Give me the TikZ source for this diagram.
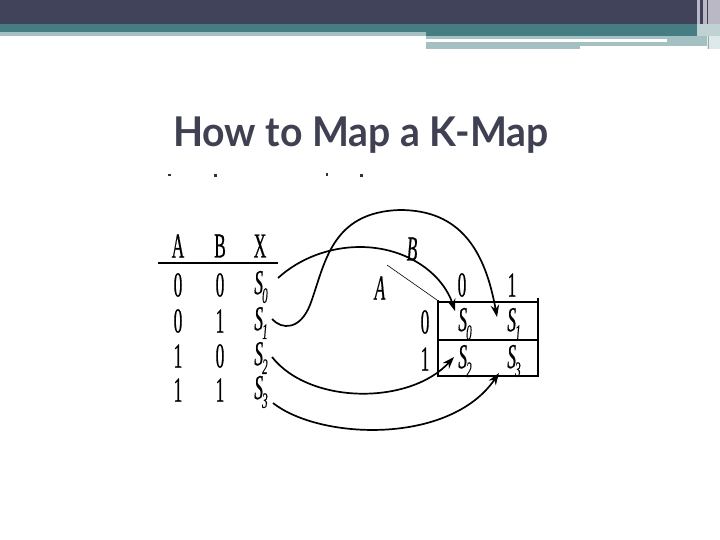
\documentclass[tikz,border=0pt]{standalone}
\usepackage{fontspec}
\usetikzlibrary{arrows.meta}
\newfontfamily\titlefont{Lato}
\newfontfamily\tabfont[FakeBold=0.6]{Liberation Serif}
\definecolor{hdark}{HTML}{41435A}
\definecolor{hteal}{HTML}{467D82}
\definecolor{hlight}{HTML}{A5C0C2}
\definecolor{hpale}{HTML}{DDE9EA}
\definecolor{hgray}{HTML}{B9B8C4}
\definecolor{titlecol}{HTML}{3F4152}
\newcommand{\Sv}[1]{\textit{S}\kern-0.05em\raisebox{-0.25em}{\fontsize{22}{22}\selectfont\textit{#1}}}
\tikzset{
  tab/.style={font=\tabfont\fontsize{35}{35}\selectfont, xscale=0.5, inner sep=0pt, anchor=center},
  mapline/.style={line width=1.7pt, -{Stealth[length=12pt,width=8.5pt]}},
  boxline/.style={line width=1.1pt},
  thickline/.style={line width=2.4pt},
  dotmark/.style={fill=black!80, draw=none}
}
\begin{document}
\begin{tikzpicture}[x=1pt,y=-1pt]
\useasboundingbox (0,0) rectangle (720,540);
\fill[white] (0,0) rectangle (720,540);
% header bands
\fill[hdark] (0,0) rectangle (720,24);
\fill[hteal] (0,24) rectangle (720,32);
\fill[hlight] (0,32) rectangle (426,36);
\fill[hteal] (426,32) rectangle (697,36);
\fill[hlight] (426,36) rectangle (697,39);
\fill[hlight] (426,42) rectangle (580,49);
\fill[hlight] (580,42) rectangle (697,46);
\fill[hlight] (667,39) rectangle (697,42);
\fill[hgray] (697,0) rectangle (700,24);
\fill[hgray] (703,0) rectangle (707,24);
\fill[hgray] (708,0) rectangle (720,24);
\fill[hlight!70] (697,24) rectangle (720,36);
\fill[hlight] (697,36) rectangle (707,46);
\fill[hpale] (707,36) rectangle (720,49);
\draw[gray!70, line width=0.8pt] (708,36) -- (708,49);
% title
\node[font=\titlefont\bfseries\fontsize{41}{48}\selectfont, text=titlecol, anchor=base west, inner sep=0pt, xscale=0.955] (title) at (173,147) {How to Map a K-Map};
% stray marks
\fill[dotmark] (168,174) rectangle (171,176) coordinate (m1);
\fill[dotmark] (214,174) rectangle (217,177) coordinate (m2);
\fill[dotmark] (326,173) rectangle (328,176) coordinate (m3);
\fill[dotmark] (360,174) rectangle (363,177) coordinate (m4);
% truth table
\node[tab] (hA) at (178,246) {A};
\node[tab] (hB) at (220,246) {B};
\node[tab] (hX) at (260,246) {X};
\draw[boxline] (158,263) coordinate (hl1) -- (278,263) coordinate (hl2);
\node[tab] (a0) at (178,285) {0};
\node[tab] (b0) at (220,285) {0};
\node[tab] (x0) at (261,287) {\Sv{0}};
\node[tab] (a1) at (178,321) {0};
\node[tab] (b1) at (220,321) {1};
\node[tab] (x1) at (261,323) {\Sv{1}};
\node[tab] (a2) at (178,356) {1};
\node[tab] (b2) at (220,356) {0};
\node[tab] (x2) at (261,358) {\Sv{2}};
\node[tab] (a3) at (178,390) {1};
\node[tab] (b3) at (220,390) {1};
\node[tab] (x3) at (261,392) {\Sv{3}};
% K-map
\coordinate (k1) at (438,302);
\coordinate (k2) at (538,302);
\coordinate (k3) at (438,376);
\coordinate (k4) at (538,376);
\draw[boxline] (438,300) -- (438,377);
\draw[boxline] (538,298) -- (538,377);
\draw[boxline] (k1) -- (k2);
\draw[thickline] (438,340) coordinate (km1) -- (538,340) coordinate (km2);
\draw[thickline] (k3) -- (k4);
\node[tab] (c0) at (462,285) {0};
\node[tab] (c1) at (512,285) {1};
\node[tab] (r0) at (425,322) {0};
\node[tab] (r1) at (425,359) {1};
\node[tab] (m0) at (465,324) {\Sv{0}};
\node[tab] (mm1) at (514,324) {\Sv{1}};
\node[tab] (mm2) at (465,361) {\Sv{2}};
\node[tab] (mm3) at (514,361) {\Sv{3}};
\node[tab] (lB) at (412,249) {\textit{B}};
\node[tab] (lA) at (380,288) {\textit{A}};
\draw[line width=0.6pt] (387,265) coordinate (d1) -- (437,300) coordinate (d2);
% arrows
\coordinate (s0) at (278,278);
\coordinate (s1) at (272,319);
\coordinate (s2) at (272,357);
\coordinate (s3) at (273,403);
\coordinate (t0) at (455,311);
\coordinate (t1) at (497,317);
\coordinate (t2) at (454,357);
\coordinate (t3) at (499,373);
\draw[mapline] (s0) .. controls (300,258) and (330,247) .. (360,247)
   .. controls (405,247) and (442,272) .. (t0);
\draw[mapline] (s1) .. controls (282,330) and (300,330) .. (310,305)
   .. controls (325,265) and (330,212) .. (400,210)
   .. controls (460,210) and (485,250) .. (t1);
\draw[mapline] (s2) .. controls (310,405) and (410,405) .. (t2);
\draw[mapline] (s3) .. controls (320,440) and (450,445) .. (t3);
\end{tikzpicture}
\end{document}
